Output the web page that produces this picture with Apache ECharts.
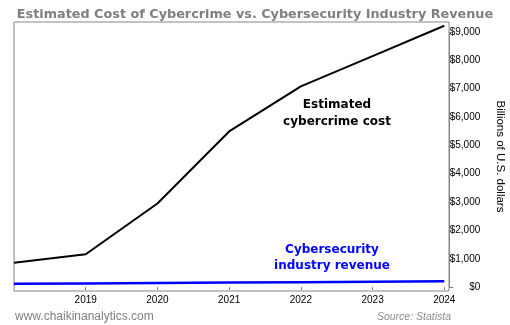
<!DOCTYPE html>
<html>
<head>
<meta charset="utf-8">
<script src="https://cdn.jsdelivr.net/npm/echarts@6/dist/echarts.min.js"></script>
<style>
html,body{margin:0;padding:0;background:#fff;}
#chart{width:510px;height:325px;}
</style>
</head>
<body>
<div id="chart"></div>
<script>
var years = [2018, 2019, 2020, 2021, 2022, 2023, 2024];
var yearLabels = ['2018', '2019', '2020', '2021', '2022', '2023', '2024'];
var cybercrimeCost = [860, 1160, 2950, 5490, 7080, 8150, 9220];
var securityRevenue = [120, 130, 145, 160, 175, 190, 205];

function pairs(xs, ys) { return xs.map(function (x, i) { return [x, ys[i]]; }); }
function money(v) { return '$' + v.toLocaleString('en-US'); }

var sans = '"Liberation Sans", Arial, sans-serif';
var verd = '"DejaVu Sans", Verdana, sans-serif';

var chart = echarts.init(document.getElementById('chart'), null, { renderer: 'canvas' });
chart.setOption({
  animation: false,
  backgroundColor: '#ffffff',
  title: {
    text: 'Estimated Cost of Cybercrime vs. Cybersecurity Industry Revenue',
    left: 'center', top: 3,
    textStyle: { fontFamily: verd, fontWeight: 'bold', fontSize: 12.8, color: '#7f7f7f' }
  },
  grid: [
    { left: 14, right: 61, top: 22, bottom: 34, show: true, borderColor: '#868686', borderWidth: 1,
      backgroundColor: 'transparent', containLabel: false, outerBoundsMode: 'none' },
    { left: 14, right: 65.7, top: 32, bottom: 37.9, show: false, containLabel: false, outerBoundsMode: 'none' }
  ],
  xAxis: [
    { type: 'value', gridIndex: 0, min: 2018, max: 2024.066, show: false },
    { type: 'category', gridIndex: 1, data: yearLabels, boundaryGap: false, offset: 4,
      axisLine: { show: false },
      axisTick: { show: true, length: 3, lineStyle: { color: '#808080', width: 1 }, interval: function (i) { return i > 0; } },
      axisLabel: { show: true, fontFamily: sans, fontSize: 10, color: '#000', margin: 4, interval: function (i) { return i > 0; } },
      splitLine: { show: false } }
  ],
  yAxis: [
    { type: 'value', gridIndex: 0, min: -138, max: 9351, position: 'right', show: true,
      axisLine: { show: false }, axisTick: { show: false }, axisLabel: { show: false }, splitLine: { show: false },
      name: 'Billions of U.S. dollars', nameLocation: 'middle', nameRotate: -90, nameGap: 45,
      nameTextStyle: { fontFamily: sans, fontSize: 11.5, color: '#000' } },
    { type: 'value', gridIndex: 1, min: 0, max: 9000, interval: 1000, position: 'right', offset: 5,
      axisLine: { show: true, lineStyle: { color: '#868686', width: 1 } },
      axisTick: { show: true, inside: false, length: 4, lineStyle: { color: '#808080', width: 1 } },
      axisLabel: { show: true, fontFamily: sans, fontSize: 10, color: '#000', align: 'right', margin: 31,
        formatter: function (v) { return money(v); } },
      splitLine: { show: false } }
  ],
  series: [
    { type: 'line', xAxisIndex: 0, yAxisIndex: 0, data: pairs(years, securityRevenue), symbol: 'none',
      lineStyle: { color: '#0000ff', width: 2.5 }, z: 3 },
    { type: 'line', xAxisIndex: 0, yAxisIndex: 0, data: pairs(years, cybercrimeCost), symbol: 'none',
      lineStyle: { color: '#000000', width: 2 }, z: 4 }
  ],
  graphic: [
    { type: 'text', x: 337, y: 105, style: { text: 'Estimated', font: 'bold 12px ' + verd, fill: '#000', textAlign: 'center', textVerticalAlign: 'middle' } },
    { type: 'text', x: 337, y: 122, style: { text: 'cybercrime cost', font: 'bold 12px ' + verd, fill: '#000', textAlign: 'center', textVerticalAlign: 'middle' } },
    { type: 'text', x: 332, y: 250, style: { text: 'Cybersecurity', font: 'bold 12px ' + verd, fill: '#0000ff', textAlign: 'center', textVerticalAlign: 'middle' } },
    { type: 'text', x: 332, y: 266, style: { text: 'industry revenue', font: 'bold 12px ' + verd, fill: '#0000ff', textAlign: 'center', textVerticalAlign: 'middle' } },
    { type: 'text', x: 15, y: 317, style: { text: 'www.chaikinanalytics.com', font: '12px ' + sans, fill: '#7f7f7f', textAlign: 'left', textVerticalAlign: 'middle' } },
    { type: 'text', x: 451, y: 317, style: { text: 'Source: Statista', font: 'italic 10.5px ' + sans, fill: '#8c8c8c', textAlign: 'right', textVerticalAlign: 'middle' } }
  ]
});
</script>
</body>
</html>
